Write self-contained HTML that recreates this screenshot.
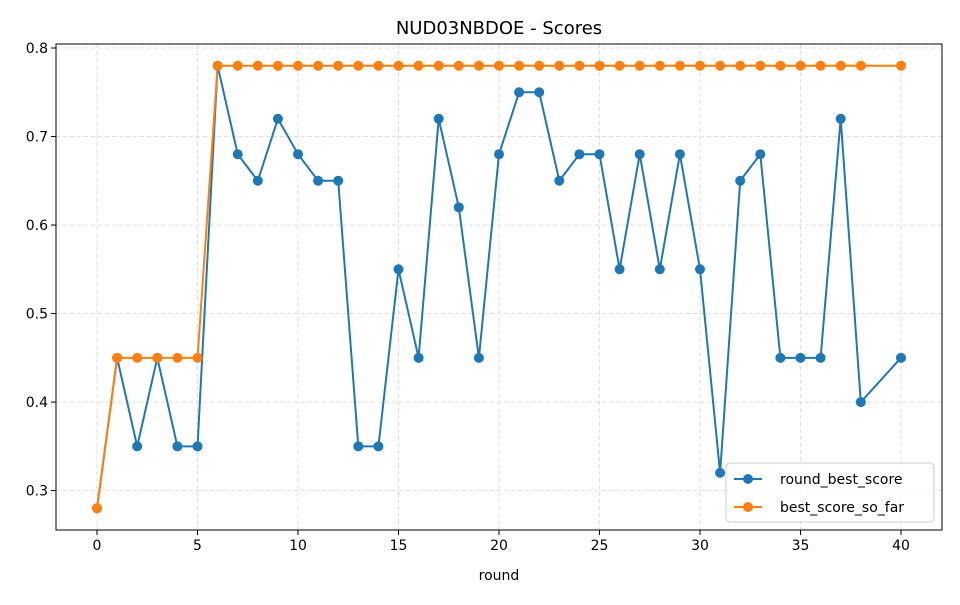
<!DOCTYPE html>
<html><head><meta charset="utf-8"><style>
body{margin:0;background:#fff;font-family:"Liberation Sans","DejaVu Sans",sans-serif;}
</style></head><body>
<svg id="chart" width="960" height="600" xmlns="http://www.w3.org/2000/svg" font-family="DejaVu Sans, Liberation Sans, sans-serif"></svg>
<script>
const rounds=[0,1,2,3,4,5,6,7,8,9,10,11,12,13,14,15,16,17,18,19,20,21,22,23,24,25,26,27,28,29,30,31,32,33,34,35,36,37,38,40];
const roundBest=[0.28,0.45,0.35,0.45,0.35,0.35,0.78,0.68,0.65,0.72,0.68,0.65,0.65,0.35,0.35,0.55,0.45,0.72,0.62,0.45,0.68,0.75,0.75,0.65,0.68,0.68,0.55,0.68,0.55,0.68,0.55,0.32,0.65,0.68,0.45,0.45,0.45,0.72,0.40,0.45];
const bestSoFar=[0.28,0.45,0.45,0.45,0.45,0.45,0.78,0.78,0.78,0.78,0.78,0.78,0.78,0.78,0.78,0.78,0.78,0.78,0.78,0.78,0.78,0.78,0.78,0.78,0.78,0.78,0.78,0.78,0.78,0.78,0.78,0.78,0.78,0.78,0.78,0.78,0.78,0.78,0.78,0.78];
const xTicks=[0,5,10,15,20,25,30,35,40];
const yTicks=[0.3,0.4,0.5,0.6,0.7,0.8];
const L=56,R=942,T=44,B=530;
const xMin=-2.04,xMax=42.04,yMin=0.2555,yMax=0.8045;
const sx=v=>L+(v-xMin)/(xMax-xMin)*(R-L);
const sy=v=>B-(v-yMin)/(yMax-yMin)*(B-T);
const svg=document.getElementById('chart');
const NS='http://www.w3.org/2000/svg';
function el(tag,attrs,parent){const e=document.createElementNS(NS,tag);for(const k in attrs)e.setAttribute(k,attrs[k]);(parent||svg).appendChild(e);return e;}
let t=el('text',{x:499,y:34,'text-anchor':'middle','font-size':18,fill:'#000'});t.textContent='NUD03NBDOE - Scores';


xTicks.forEach(v=>{const x=sx(v);
 const g=el('line',{x1:x,x2:x,y1:T,y2:B,stroke:'#ddd','stroke-dasharray':'4,3'});
 
 
 el('line',{x1:x,x2:x,y1:B,y2:B+5,stroke:'#000'});
 const tt=el('text',{x:x,y:B+20,'text-anchor':'middle','font-size':14});tt.textContent=v;
 
 });
yTicks.forEach(v=>{const y=sy(v);
 const g=el('line',{x1:L,x2:R,y1:y,y2:y,stroke:'#ddd','stroke-dasharray':'4,3'});
 
 
 el('line',{x1:L-5,x2:L,y1:y,y2:y,stroke:'#000'});
 const tt=el('text',{x:L-8,y:y+5,'text-anchor':'end','font-size':14});tt.textContent=v.toFixed(1);
 
 });
const fr=el('rect',{x:L,y:T,width:R-L,height:B-T,fill:'none',stroke:'#000'});


t=el('text',{x:499,y:580,'text-anchor':'middle','font-size':14});t.textContent='round';


function series(vals,color,name){
 const p=el('polyline',{points:rounds.map((r,i)=>sx(r)+','+sy(vals[i])).join(' '),fill:'none',stroke:color,'stroke-width':2});
 
 
 rounds.forEach((r,i)=>{const c=el('circle',{cx:sx(r),cy:sy(vals[i]),r:5,fill:color});
  
  });
}
series(roundBest,'#1f77b4','round-best-score');
series(bestSoFar,'#ff7f0e','best-score-so-far');
const lg=el('g',{});


el('rect',{x:726,y:463,width:208,height:59,rx:4,fill:'#fff','fill-opacity':0.8,stroke:'#ccc'},lg);
[['round_best_score','#1f77b4',479],['best_score_so_far','#ff7f0e',507]].forEach(([n,c,y])=>{
 el('line',{x1:734,x2:762,y1:y,y2:y,stroke:c,'stroke-width':2},lg);
 el('circle',{cx:748,cy:y,r:5,fill:c},lg);
 const tt=el('text',{x:780,y:y+5,'font-size':14},lg);tt.textContent=n;
 
 
});
</script>
</body></html>
